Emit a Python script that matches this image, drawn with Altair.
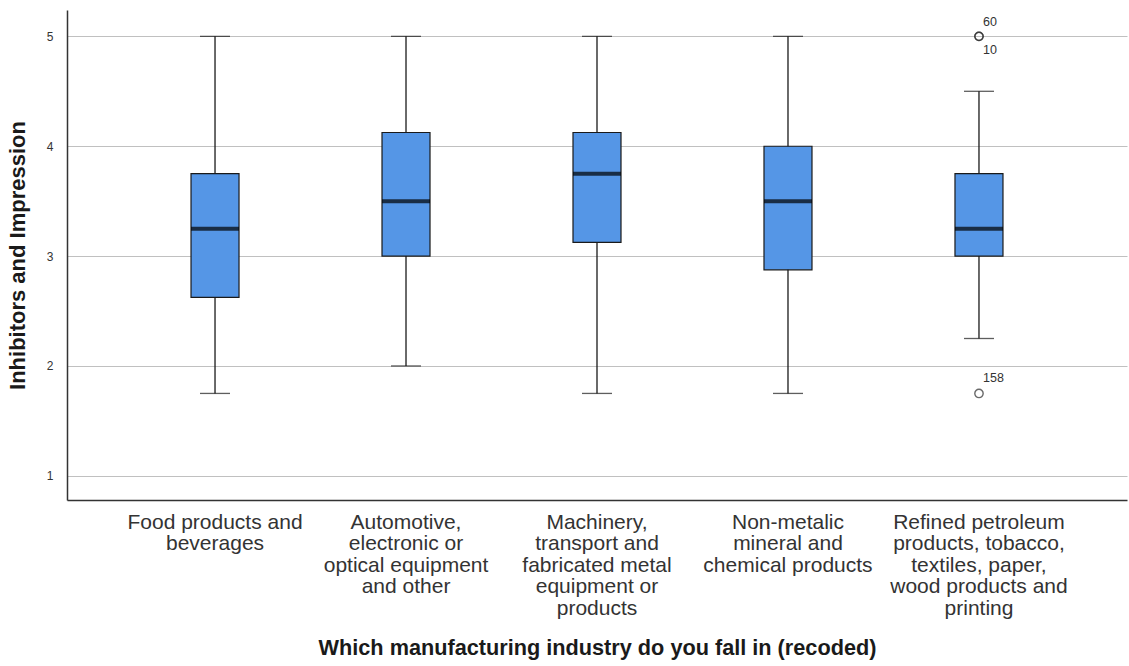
import altair as alt
import pandas as pd

# Industry groups (| marks a line break in the axis label)
categories = [
    "Food products and|beverages",
    "Automotive,|electronic or|optical equipment|and other",
    "Machinery,|transport and|fabricated metal|equipment or|products",
    "Non-metalic|mineral and|chemical products",
    "Refined petroleum|products, tobacco,|textiles, paper,|wood products and|printing",
]

# Five-number summaries per group
whisker_low = [1.75, 2.0, 1.75, 1.75, 2.25]
q1 = [2.625, 3.0, 3.125, 2.875, 3.0]
median = [3.25, 3.5, 3.75, 3.5, 3.25]
q3 = [3.75, 4.125, 4.125, 4.0, 3.75]
whisker_high = [5.0, 5.0, 5.0, 5.0, 4.5]

# Outlying cases
outlier_group = [categories[4], categories[4], categories[4]]
outlier_value = [5.0, 5.0, 1.75]
outlier_case = ["60", "10", "158"]
outlier_dy = [-14, 14, -15]

summary = pd.DataFrame({
    "group": categories,
    "low": whisker_low,
    "q1": q1,
    "median": median,
    "q3": q3,
    "high": whisker_high,
})
outliers = pd.DataFrame({
    "group": outlier_group,
    "value": outlier_value,
    "case": outlier_case,
    "dy": outlier_dy,
})

FONT = "Liberation Sans"
BOX_W = 48
CAP_W = 30

x_enc = alt.X(
    "group:N",
    sort=categories,
    scale=alt.Scale(paddingInner=0, paddingOuter=0.275),
    axis=alt.Axis(
        title="Which manufacturing industry do you fall in (recoded)",
        labelExpr="split(datum.label, '|')",
        labelAngle=0,
        labelFont=FONT,
        labelFontSize=21,
        labelColor="#333333",
        labelLineHeight=21.5,
        labelPadding=11,
        labelBaseline="top",
        ticks=False,
        domainColor="#333333",
        domainWidth=1.5,
        titleFont=FONT,
        titleFontSize=21.7,
        titleFontWeight="bold",
        titleColor="#1a1a1a",
        titlePadding=19,
    ),
)

y_scale = alt.Scale(domain=[0.78, 5.24], nice=False, zero=False)
y_axis = alt.Axis(
    title="Inhibitors and Impression",
    values=[1, 2, 3, 4, 5],
    format="d",
    grid=True,
    gridColor="#c0c0c0",
    gridWidth=1,
    ticks=False,
    labelFont=FONT,
    labelFontSize=12,
    labelColor="#333333",
    labelPadding=14,
    domainColor="#333333",
    domainWidth=1.5,
    titleFont=FONT,
    titleFontSize=22,
    titleFontWeight="bold",
    titleColor="#1a1a1a",
    titlePadding=17,
)

base = alt.Chart(summary).encode(x=x_enc)

whiskers = base.mark_rule(color="#1a1a1a", strokeWidth=1.3).encode(
    y=alt.Y("low:Q", scale=y_scale, axis=y_axis),
    y2="high:Q",
)

cap_low = base.mark_tick(color="#1a1a1a", size=CAP_W, thickness=1.3).encode(
    y=alt.Y("low:Q", scale=y_scale)
)
cap_high = base.mark_tick(color="#1a1a1a", size=CAP_W, thickness=1.3).encode(
    y=alt.Y("high:Q", scale=y_scale)
)

boxes = base.mark_bar(
    size=BOX_W, color="#5596e6", stroke="#1a1a1a", strokeWidth=1.2
).encode(
    y=alt.Y("q1:Q", scale=y_scale),
    y2="q3:Q",
)

medians = base.mark_tick(color="#000000", size=BOX_W, thickness=4).encode(
    y=alt.Y("median:Q", scale=y_scale)
)

out_base = alt.Chart(outliers).encode(
    x=alt.X("group:N", sort=categories),
    y=alt.Y("value:Q", scale=y_scale),
)
out_points = out_base.mark_point(
    shape="circle", size=70, filled=False, color="#2a2a2a", strokeWidth=1.4
)
out_labels = []
for i in range(len(outlier_case)):
    out_labels.append(
        alt.Chart(outliers.iloc[[i]]).mark_text(
            font=FONT, fontSize=12.5, color="#333333", align="left",
            dx=4, dy=outlier_dy[i],
        ).encode(
            x=alt.X("group:N", sort=categories),
            y=alt.Y("value:Q", scale=y_scale),
            text="case:N",
        )
    )

chart = alt.layer(
    whiskers, cap_low, cap_high, boxes, medians, out_points, *out_labels
).properties(
    width=1060,
    height=490,
    autosize=alt.AutoSizeParams(type="none"),
    padding={"left": 67, "top": 10, "right": 2, "bottom": 166},
    background="white",
).configure_view(stroke=None)

chart.save("out.html", embed_options={"renderer": "svg", "actions": False})
